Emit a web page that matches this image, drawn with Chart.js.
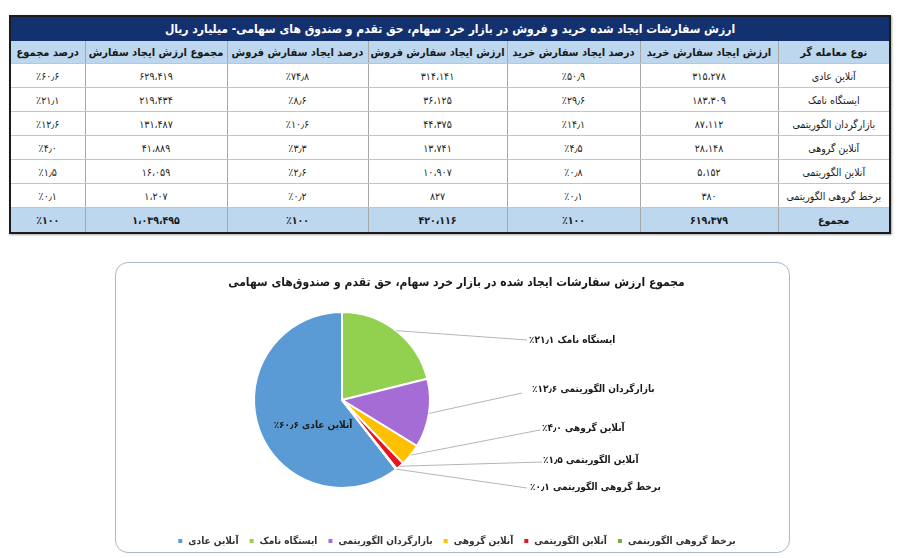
<!DOCTYPE html>
<html>
<head>
<meta charset="utf-8">
<script src="https://cdn.jsdelivr.net/npm/chart.js@4.4.0/dist/chart.umd.min.js"></script>
<style>
  html, body { margin: 0; padding: 0; background: #fff; width: 900px; height: 558px; overflow: hidden; }
  body { font-family: "DejaVu Sans Condensed", "DejaVu Sans", sans-serif; position: relative; }
  #tbl { position: absolute; left: 9px; top: 15px; width: 881px; border-collapse: collapse; table-layout: fixed;
         border: 2px solid #1b1b1b; box-shadow: 1px 1px 2px rgba(0,0,0,0.35); }
  #tbl td, #tbl th { text-align: center; font-size: 10.5px; color: #1a1a1a; height: 23px; padding: 0;
         border-left: 1px solid #a8a8a8; border-right: 1px solid #a8a8a8; border-bottom: 1px solid #c4c4c4; white-space: nowrap; }
  #tbl .ttl { background: #13306f; color: #fff; font-weight: bold; font-size: 12px; height: 24px; border: none; }
  #tbl .hdr th { background: #bdd7ee; font-weight: bold; font-size: 11px; height: 22px; }
  #tbl .sum td { background: #bdd7ee; font-weight: bold; height: 24px; }
  #box { position: absolute; left: 115px; top: 262px; width: 675px; height: 291px; box-sizing: border-box;
         border: 1.5px solid #a7b8cd; border-radius: 13px; }
  #pie { position: absolute; left: 115px; top: 262px; }
</style>
</head>
<body>
<table id="tbl" dir="rtl"></table>
<div id="box"></div>
<canvas id="pie" width="675" height="296"></canvas>
<script>
// table / chart data
let tableTitle = 'ارزش سفارشات ایجاد شده خرید و فروش در بازار خرد سهام، حق تقدم و صندوق های سهامی- میلیارد ریال';
let headers = ['نوع معامله گر','ارزش ایجاد سفارش خرید','درصد ایجاد سفارش خرید','ارزش ایجاد سفارش فروش','درصد ایجاد سفارش فروش','مجموع ارزش ایجاد سفارش','درصد مجموع'];
let colWidths = [112, 138, 133, 139, 141, 142, 75];
let categories = ['آنلاین عادی','ایستگاه نامک','بازارگردان الگوریتمی','آنلاین گروهی','آنلاین الگوریتمی','برخط گروهی الگوریتمی'];
let buyValue = [315278, 183309, 87112, 28148, 5152, 380];
let buyPct = [50.9, 29.6, 14.1, 4.5, 0.8, 0.1];
let sellValue = [314141, 36125, 44375, 13741, 10907, 827];
let sellPct = [74.8, 8.6, 10.6, 3.3, 2.6, 0.2];
let totalValue = [629419, 219434, 131487, 41889, 16059, 1207];
let totalPct = [60.6, 21.1, 12.6, 4.0, 1.5, 0.1];
let sumLabel = 'مجموع';
let sumRow = [619379, 100, 420116, 100, 1039495, 100];
let chartTitle = 'مجموع ارزش سفارشات ایجاد شده در بازار خرد سهام، حق تقدم و صندوق‌های سهامی';
let colors = ['#5b9bd5','#92d050','#a66cd6','#ffc000','#e8161a','#70ad47'];

const FONT = '"DejaVu Sans Condensed", "DejaVu Sans"';
const faDigits = '۰۱۲۳۴۵۶۷۸۹';
function fa(s) { return String(s).replace(/[0-9]/g, d => faDigits[d]); }
function fmtNum(v) { return fa(v.toString().replace(/\B(?=(\d{3})+(?!\d))/g, '،')); }
function fmtDec(v, dec) { return fa(v.toFixed(dec).replace('.', '٫')); }
function fmtPct(v, dec) { return '٪' + fmtDec(v, dec); }

// build table
let table = document.getElementById('tbl');
let cg = document.createElement('colgroup');
colWidths.forEach(w => { let c = document.createElement('col'); c.style.width = w + 'px'; cg.appendChild(c); });
table.appendChild(cg);
let tr = table.insertRow();
let th = document.createElement('td');
th.colSpan = 7; th.className = 'ttl'; th.textContent = tableTitle;
tr.appendChild(th);
tr = table.insertRow(); tr.className = 'hdr';
headers.forEach(h => { let c = document.createElement('th'); c.textContent = h; tr.appendChild(c); });
for (let i = 0; i < categories.length; i++) {
    let row = table.insertRow();
    [categories[i], fmtNum(buyValue[i]), fmtPct(buyPct[i], 1), fmtNum(sellValue[i]), fmtPct(sellPct[i], 1),
     fmtNum(totalValue[i]), fmtPct(totalPct[i], 1)].forEach(t => { row.insertCell().textContent = t; });
}
let srow = table.insertRow(); srow.className = 'sum';
[sumLabel, fmtNum(sumRow[0]), fmtPct(sumRow[1], 0), fmtNum(sumRow[2]), fmtPct(sumRow[3], 0),
 fmtNum(sumRow[4]), fmtPct(sumRow[5], 0)].forEach(t => { srow.insertCell().textContent = t; });

// pie placement inside the canvas
const pieCenter = {x: 227, y: 138}, pieRadius = 89;
const placePie = {
    id: 'placePie',
    afterLayout(chart) {
        let a = chart.chartArea;
        a.left = pieCenter.x - pieRadius; a.right = pieCenter.x + pieRadius;
        a.top = pieCenter.y - pieRadius; a.bottom = pieCenter.y + pieRadius;
        a.width = 2 * pieRadius; a.height = 2 * pieRadius;
    }
};

// leader lines + labels (line end, text left edge)
const labelAt = [null, [412, 78, 414, 78], [407, 131, 417, 127], [425, 168, 427, 166], [427, 200, 428, 198], [412, 226, 415, 225]];
const insideOffset = [-29, 25];
const sliceLabels = {
    id: 'sliceLabels',
    afterDatasetsDraw(chart) {
        let ctx = chart.ctx;
        let arcs = chart.getDatasetMeta(0).data;
        ctx.save();
        ctx.font = 'bold 10px ' + FONT;
        ctx.fillStyle = '#1a1a1a';
        ctx.textBaseline = 'middle';
        ctx.direction = 'rtl';
        arcs.forEach((arc, i) => {
            let p = arc.getProps(['x', 'y', 'startAngle', 'endAngle', 'outerRadius'], true);
            let text = categories[i] + ' ' + fmtDec(totalPct[i], 1) + '٪';
            if (i === 0) {
                ctx.textAlign = 'center';
                ctx.fillText(text, p.x + insideOffset[0], p.y + insideOffset[1]);
                return;
            }
            let mid = (p.startAngle + p.endAngle) / 2;
            let ex = p.x + Math.cos(mid) * p.outerRadius, ey = p.y + Math.sin(mid) * p.outerRadius;
            let [lx, ly, tx, ty] = labelAt[i];
            ctx.strokeStyle = '#b5b5b5';
            ctx.lineWidth = 1;
            ctx.beginPath(); ctx.moveTo(ex, ey); ctx.lineTo(lx, ly); ctx.stroke();
            ctx.textAlign = 'left';
            ctx.fillText(text, tx, ty);
        });
        ctx.restore();
    }
};

let sum = totalValue.reduce((a, b) => a + b, 0);
new Chart(document.getElementById('pie').getContext('2d'), {
    type: 'pie',
    data: {
        labels: categories,
        datasets: [{
            data: totalValue,
            backgroundColor: colors,
            borderColor: '#ffffff',
            borderWidth: 2,
            hoverOffset: 0
        }]
    },
    options: {
        responsive: false,
        animation: false,
        rotation: -360 * totalValue[0] / sum,
        layout: { padding: { top: 4, bottom: 2, left: 8 } },
        plugins: {
            title: {
                display: true,
                text: chartTitle,
                color: '#1a1a1a',
                font: { family: FONT, size: 12, weight: 'bold' },
                padding: { top: 10, bottom: 0 }
            },
            legend: {
                position: 'bottom',
                labels: {
                    boxWidth: 6, boxHeight: 6, padding: 10,
                    color: '#333',
                    font: { family: FONT, size: 10, weight: 'bold' }
                }
            },
            tooltip: { enabled: false }
        }
    },
    plugins: [placePie, sliceLabels]
});
</script>
</body>
</html>
